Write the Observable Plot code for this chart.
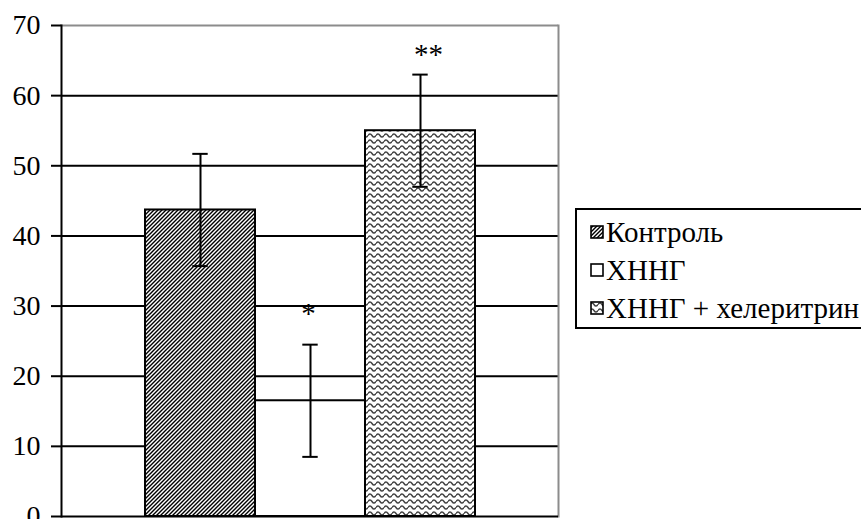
<!DOCTYPE html>
<html>
<head>
<meta charset="utf-8">
<script src="https://cdn.jsdelivr.net/npm/d3@7"></script>
<script src="https://cdn.jsdelivr.net/npm/@observablehq/plot@0.6"></script>
</head>
<body style="margin:0;padding:0;background:white;overflow:hidden">
<svg width="0" height="0" style="position:absolute">
  <defs>
    <pattern id="diag" patternUnits="userSpaceOnUse" width="4" height="4">
      <rect width="4" height="4" fill="white"/>
      <path d="M-1,1 l2,-2 M0,4 l4,-4 M3,5 l2,-2" stroke="black" stroke-width="1.4"/>
    </pattern>
    <pattern id="wave" patternUnits="userSpaceOnUse" width="8" height="6">
      <rect width="8" height="6" fill="white"/>
      <path d="M0,3.5 Q2,0.3 4,3.5 T8,3.5" fill="none" stroke="#444" stroke-width="1.5"/>
    </pattern>
  </defs>
</svg>
<div id="wrap" style="position:relative;width:861px;height:519px">
  <div id="chart"></div>
  <div id="legend" style="position:absolute;left:575px;top:208px;width:300px;height:121px;border:2px solid black;box-sizing:border-box;background:white;font-family:'Liberation Serif';font-size:29px;color:black;padding-top:3px"></div>
</div>
<script>
const groups = ["Контроль", "ХННГ", "ХННГ + хелеритрин"];
const means = [43.7, 16.5, 55.0];
const errors = [8.0, 8.0, 8.0];
const stars = ["", "*", "**"];
const starY = [null, 28.9, 65.8];
const yTicks = [0, 10, 20, 30, 40, 50, 60, 70];
const fills = ["url(#diag)", "white", "url(#wave)"];

const data = groups.map((g, i) => ({
  group: g, mean: means[i], lo: means[i] - errors[i], hi: means[i] + errors[i],
  star: stars[i], starY: starY[i], fill: fills[i]
}));

const chart = Plot.plot({
  width: 861,
  height: 519,
  marginLeft: 61,
  marginRight: 303,
  marginTop: 25,
  marginBottom: 3,
  style: { fontFamily: "Liberation Serif", fontSize: "28px", background: "white", color: "black", overflow: "visible" },
  x: { domain: groups, axis: null, paddingInner: 0, paddingOuter: 0.745, align: 0.5 },
  y: { domain: [0, 70], axis: null },
  color: { type: "identity" },
  marks: [
    Plot.gridY(yTicks.filter(t => t > 0 && t < 70), { stroke: "black", strokeOpacity: 1, strokeWidth: 2 }),
    Plot.ruleY([70], { stroke: "#8c8c8c", strokeWidth: 2 }),
    Plot.frame({ anchor: "right", stroke: "#8c8c8c", strokeWidth: 2 }),
    Plot.barY(data, { x: "group", y: "mean", fill: "fill", stroke: "black", strokeWidth: 2 }),
    Plot.frame({ anchor: "left", stroke: "black", strokeWidth: 2 }),
    Plot.ruleY([0], { stroke: "black", strokeWidth: 2 }),
    Plot.ruleX(data, { x: "group", y1: "lo", y2: "hi", stroke: "black", strokeWidth: 2 }),
    Plot.tickY(data, { x: "group", y: "lo", insetLeft: 47.3, insetRight: 47.3, stroke: "black", strokeWidth: 2 }),
    Plot.tickY(data, { x: "group", y: "hi", insetLeft: 47.3, insetRight: 47.3, stroke: "black", strokeWidth: 2 }),
    Plot.text(data.filter(d => d.star === "*"), { x: "group", y: "starY", text: "star", fontSize: 29, fill: "black", dx: -2 }),
    Plot.text(data.filter(d => d.star === "**"), { x: "group", y: "starY", text: "star", fontSize: 29, fill: "black", dx: 8 }),
    Plot.axisY(yTicks, { tickSize: 10, tickPadding: 11, strokeWidth: 2, stroke: "black", fill: "black", fontSize: 28, label: null })
  ]
});
d3.select(chart).attr("font-family", "Liberation Serif").selectAll("text, g").style("font-family", "Liberation Serif");
document.getElementById("chart").appendChild(chart);

const legend = document.getElementById("legend");
groups.forEach((g, i) => {
  const row = document.createElement("div");
  row.setAttribute("style", "height:38px;display:flex;align-items:center;white-space:nowrap;font-family:'Liberation Serif'");
  row.innerHTML = `<svg width="14" height="14" style="margin-left:13px;margin-right:2px;flex:none"><rect x="1" y="1" width="12" height="12" fill="${fills[i]}" stroke="black" stroke-width="1.6"/></svg><span style="font-family:'Liberation Serif'">${g}</span>`;
  legend.appendChild(row);
});
</script>
</body>
</html>
